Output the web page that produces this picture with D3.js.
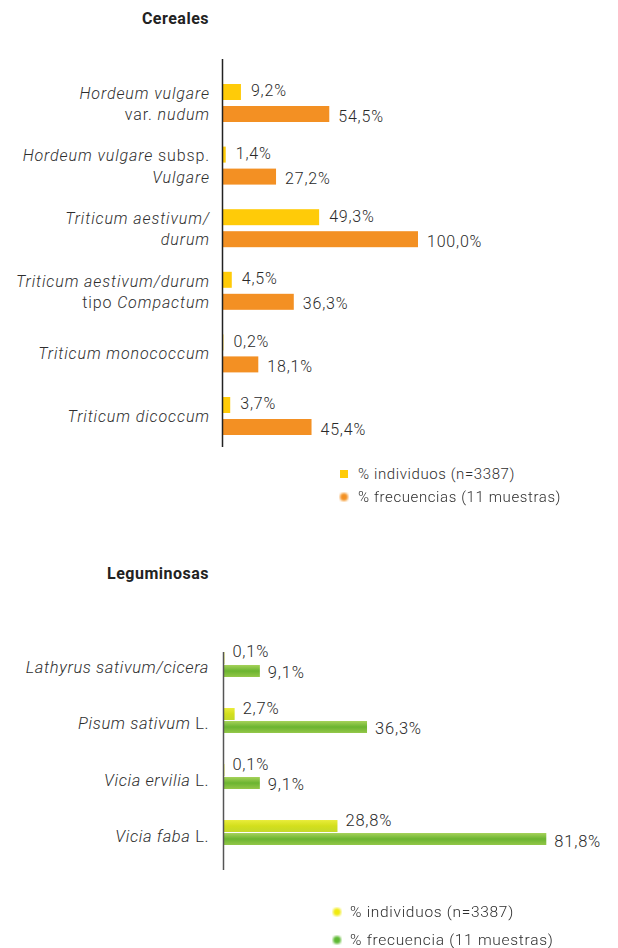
<!DOCTYPE html>
<html><head><meta charset="utf-8">
<script src="https://cdn.jsdelivr.net/npm/d3@7"></script>
<style>
html,body{margin:0;padding:0;background:#fff;}
svg{display:block;font-family:Roboto,"Noto Sans",sans-serif;}
</style></head>
<body>
<script>
// ---- Data: Cereales ----
const cerealCategories = [
  [[{t:"Hordeum vulgare",i:true}],[{t:"var. ",i:false},{t:"nudum",i:true}]],
  [[{t:"Hordeum vulgare",i:true},{t:" subsp.",i:false}],[{t:"Vulgare",i:true}]],
  [[{t:"Triticum aestivum/",i:true}],[{t:"durum",i:true}]],
  [[{t:"Triticum aestivum/durum",i:true}],[{t:"tipo ",i:false},{t:"Compactum",i:true}]],
  [[{t:"Triticum monococcum",i:true}]],
  [[{t:"Triticum dicoccum",i:true}]]
];
const cerealIndividuos = [9.2, 1.4, 49.3, 4.5, 0.2, 3.7];
const cerealFrecuencias = [54.5, 27.2, 100.0, 36.3, 18.1, 45.4];
const cerealLegend = ["% individuos (n=3387)", "% frecuencias (11 muestras)"];

// ---- Data: Leguminosas ----
const legumeCategories = [
  [[{t:"Lathyrus sativum/cicera",i:true}]],
  [[{t:"Pisum sativum",i:true},{t:" L.",i:false}]],
  [[{t:"Vicia ervilia",i:true},{t:" L.",i:false}]],
  [[{t:"Vicia faba",i:true},{t:" L.",i:false}]]
];
const legumeIndividuos = [0.1, 2.7, 0.1, 28.8];
const legumeFrecuencias = [9.1, 36.3, 9.1, 81.8];
const legumeLegend = ["% individuos (n=3387)", "% frecuencia (11 muestras)"];

const fmt = v => v.toFixed(1).replace(".", ",") + "%";

const W = 618, H = 948;
const svg = d3.select("body").append("svg").attr("width", W).attr("height", H);
const defs = svg.append("defs");
const gGreen = defs.append("linearGradient").attr("id","gGreen").attr("x1",0).attr("y1",0).attr("x2",0).attr("y2",1);
gGreen.append("stop").attr("offset","0%").attr("stop-color","#a6d25a");
gGreen.append("stop").attr("offset","50%").attr("stop-color","#6bb430");
gGreen.append("stop").attr("offset","100%").attr("stop-color","#93c748");
const gYel = defs.append("linearGradient").attr("id","gYel").attr("x1",0).attr("y1",0).attr("x2",0).attr("y2",1);
gYel.append("stop").attr("offset","0%").attr("stop-color","#e9ec3a");
gYel.append("stop").attr("offset","50%").attr("stop-color","#d3df1c");
gYel.append("stop").attr("offset","100%").attr("stop-color","#c4d92a");
defs.append("filter").attr("id","blur").append("feGaussianBlur").attr("stdDeviation",1.2);
defs.append("filter").attr("id","soft").append("feGaussianBlur").attr("stdDeviation",0.35);

function drawLabel(g, lines, x, cy, size, lineGap, ls) {
  const n = lines.length;
  lines.forEach((segs, li) => {
    const y = n === 1 ? cy : cy + (li === 0 ? -lineGap/2 + 0.5 : lineGap/2 + 0.5);
    const t = g.append("text").attr("x", x).attr("y", y)
      .attr("text-anchor","end").attr("dominant-baseline","central")
      .attr("font-size", size).attr("font-weight", 300).attr("letter-spacing", ls).attr("fill","#2e2e2e");
    segs.forEach(s => t.append("tspan").attr("font-style", s.i ? "italic" : "normal").text(s.t));
  });
}

function chart(opt) {
  const g = svg.append("g");
  const idx = d3.range(opt.cats.length);
  const y = d3.scaleBand().domain(idx).range(opt.yRange).paddingInner(opt.padInner).paddingOuter(0);
  const sub = d3.scaleBand().domain([0,1]).range([0, y.bandwidth()]).paddingInner(opt.subPad);
  const x = d3.scaleLinear().domain([0,100]).range(opt.xRange);

  g.append("text").attr("x", opt.titleX).attr("y", opt.titleY).attr("text-anchor","end")
    .attr("dominant-baseline","central").attr("font-weight",700).attr("font-size",16)
    .attr("letter-spacing", 0.5).attr("fill","#222").text(opt.title);

  const series = [opt.ind, opt.freq];
  series.forEach((vals, si) => {
    g.selectAll(null).data(vals).enter().append("rect")
      .attr("x", x(0)).attr("y", (d,i) => y(i) + sub(si))
      .attr("width", d => x(d) - x(0)).attr("height", sub.bandwidth())
      .attr("fill", opt.fills[si]);
    g.selectAll(null).data(vals).enter().append("text")
      .attr("x", d => x(d) + opt.valOff[si]).attr("y", (d,i) => y(i) + sub(si) + sub.bandwidth()/2 + opt.valDy[si])
      .attr("dominant-baseline","central").attr("font-size", opt.valSize).attr("font-weight", 300)
      .attr("letter-spacing", 0.8).attr("fill","#2a2a2a")
      .text(d => fmt(d));
  });

  idx.forEach(i => drawLabel(g, opt.cats[i], opt.labelX, y(i) + y.bandwidth()/2 + opt.labelDy, opt.labelSize, 21.5, opt.labelLs));

  g.append("line").attr("x1", x(0) - 0.5).attr("x2", x(0) - 0.5)
    .attr("y1", opt.axisY[0]).attr("y2", opt.axisY[1])
    .attr("stroke", opt.axisColor).attr("stroke-width", 1.5);

  // legend
  const lg = g.append("g");
  opt.legend.forEach((txt, k) => {
    const ly = opt.legendY + k * opt.legendStep;
    opt.legendMark(lg, k, opt.legendX - 18, ly);
    lg.append("text").attr("x", opt.legendX).attr("y", ly).attr("dominant-baseline","central")
      .attr("font-size", opt.legendSize).attr("font-weight", 300).attr("letter-spacing", opt.legendLs).attr("fill", "#2e2e2e")
      .attr("filter", opt.legendSoft[k] ? "url(#soft)" : null).text(txt);
  });
}

chart({
  title: "Cereales", titleX: 209, titleY: 18,
  cats: cerealCategories, ind: cerealIndividuos, freq: cerealFrecuencias,
  yRange: [84, 435], padInner: 0.393, subPad: 0.273,
  xRange: [223, 418],
  fills: ["#ffcb08", "#f39023"],
  valOff: [10, 9], valDy: [-1, 2], valSize: 16,
  labelX: 210, labelDy: 0, labelSize: 16, labelLs: 0.9,
  axisY: [59, 447], axisColor: "#222",
  legend: cerealLegend, legendX: 358, legendY: 474, legendStep: 23,
  legendSize: 15, legendLs: 0.6,
  legendSoft: [false, true],
  legendMark: (lg, k, x0, ly) => {
    if (k === 0) lg.append("rect").attr("x", x0).attr("y", ly - 4).attr("width", 8).attr("height", 8).attr("fill", "#ffcb08");
    else lg.append("circle").attr("cx", x0 + 4).attr("cy", ly).attr("r", 4).attr("fill", "#f39023").attr("filter","url(#blur)");
  }
});

chart({
  title: "Leguminosas", titleX: 209, titleY: 573,
  cats: legumeCategories, ind: legumeIndividuos, freq: legumeFrecuencias,
  yRange: [652, 845], padInner: 0.554, subPad: 0.077,
  xRange: [224, 618],
  fills: ["url(#gYel)", "url(#gGreen)"],
  valOff: [8, 8], valDy: [-6, 2], valSize: 16.5,
  labelX: 209, labelDy: 3, labelSize: 16.5, labelLs: 0.6,
  axisY: [652, 870], axisColor: "#555",
  legend: legumeLegend, legendX: 350, legendY: 912, legendStep: 28,
  legendSize: 15.5, legendLs: 0.7,
  legendSoft: [true, true],
  legendMark: (lg, k, x0, ly) => {
    lg.append("circle").attr("cx", x0 + 5).attr("cy", ly).attr("r", 4)
      .attr("fill", k === 0 ? "#f0ea10" : "#5db833").attr("filter","url(#blur)");
  }
});
</script>
</body></html>
